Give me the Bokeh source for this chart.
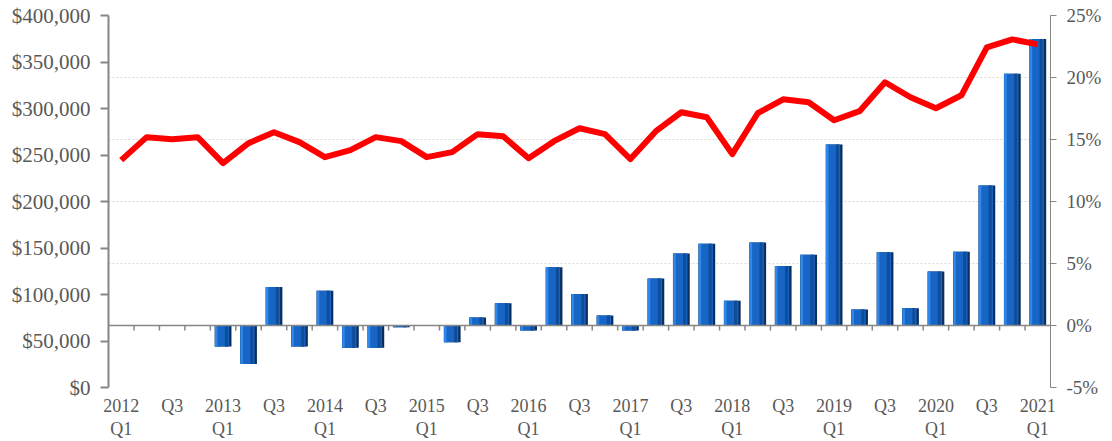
import numpy as np
from bokeh.plotting import figure
from bokeh.models import (Range1d, LinearAxis, FixedTicker, NumeralTickFormatter,
                          PrintfTickFormatter, Grid, Span, ColumnDataSource)
from bokeh.transform import dodge
from bokeh.embed import file_html
from bokeh.resources import INLINE

# ---- data ----
quarters = [f"{y} Q{q}" for y in range(2012, 2022) for q in range(1, 5)][:37]
tick_labels = ["2012\nQ1", "Q3", "2013\nQ1", "Q3", "2014\nQ1", "Q3", "2015\nQ1", "Q3",
               "2016\nQ1", "Q3", "2017\nQ1", "Q3", "2018\nQ1", "Q3", "2019\nQ1", "Q3",
               "2020\nQ1", "Q3", "2021\nQ1"]
growth_pct = [np.nan, np.nan, np.nan, np.nan, -1.7, -3.1, 3.1, -1.7, 2.8, -1.8, -1.8,
              -0.15, -0.05, -1.35, 0.65, 1.8, -0.4, 4.7, 2.55, 0.8, -0.4, 3.8, 5.8, 6.6,
              2.0, 6.7, 4.8, 5.7, 14.6, 1.3, 5.9, 1.4, 4.35, 5.95, 11.3, 20.3, 23.1]
price_usd = [244500, 269200, 267000, 269200, 241300, 262700, 274500, 263800, 247700,
             255200, 269200, 264900, 247700, 253100, 272400, 270200, 246600, 264900,
             278800, 272400, 245600, 275600, 296000, 290600, 250900, 294900, 309900,
             306700, 287400, 297100, 328200, 312100, 300300, 314200, 365700, 374300,
             368900]
left_ticks = list(range(0, 400001, 50000))
right_ticks = list(range(-5, 26, 5))

n = len(quarters)
idx = np.arange(n)
src = ColumnDataSource(dict(x=idx, pct=growth_pct, usd=price_usd))

FONT = "Liberation Serif"
TXT = "#595959"
AX = "#868686"

p = figure(width=1112, height=441, output_backend="svg", toolbar_location=None,
           x_range=Range1d(-0.5, n - 0.5), y_range=Range1d(-5, 25),
           x_axis_location=None, y_axis_location=None,
           min_border_left=108, min_border_right=62, min_border_top=15,
           min_border_bottom=53)
p.outline_line_color = None
p.grid.visible = False
p.extra_y_ranges = {"usd": Range1d(0, 400000)}

# gridlines (follow percent axis)
g = Grid(dimension=1, ticker=FixedTicker(ticks=right_ticks),
         grid_line_color="#d9d9d9", grid_line_dash="2 2", grid_line_width=1)
p.add_layout(g)

# axes
la = LinearAxis(y_range_name="usd", ticker=FixedTicker(ticks=left_ticks),
                formatter=NumeralTickFormatter(format="$0,0"))
ra = LinearAxis(ticker=FixedTicker(ticks=right_ticks),
                formatter=PrintfTickFormatter(format="%d%%"))
for a, lw, fs, to in ((la, 2, "21px", 8), (ra, 1, "19px", 6)):
    a.axis_line_color = AX
    a.axis_line_width = lw
    a.major_tick_line_color = AX
    a.major_tick_line_width = lw
    a.major_tick_out = to
    a.major_tick_in = 0
    a.minor_tick_line_color = None
    a.major_label_text_font = FONT
    a.major_label_text_font_size = fs
    a.major_label_text_color = TXT
    a.major_label_standoff = 10
p.add_layout(la, "left")
p.add_layout(ra, "right")

label_pos = list(range(0, n, 2))
ba = LinearAxis(ticker=FixedTicker(ticks=label_pos),
                major_label_overrides={k: v for k, v in zip(label_pos, tick_labels)})
ba.axis_line_color = None
ba.major_tick_line_color = None
ba.major_tick_out = 0
ba.major_tick_in = 0
ba.minor_tick_line_color = None
ba.major_label_text_font = FONT
ba.major_label_text_font_size = "18px"
ba.major_label_text_color = TXT
ba.major_label_standoff = 8
ba.major_label_text_line_height = 1.15
p.add_layout(ba, "below")

# bars with bevel look
p.vbar(x="x", top="pct", bottom=0, width=0.66, source=src,
       fill_color="#0B2F5C", line_color=None)
p.vbar(x=dodge("x", -0.035, range=p.x_range), top="pct", bottom=0, width=0.55,
       source=src, fill_color="#1766C6", line_color=None)
p.vbar(x=dodge("x", 0.13, range=p.x_range), top="pct", bottom=0, width=0.12,
       source=src, fill_color="#0F4C99", line_color=None)
p.vbar(x=dodge("x", -0.27, range=p.x_range), top="pct", bottom=0, width=0.1,
       source=src, fill_color="#2F88EA", line_color=None)

# zero axis line and ticks at category boundaries
p.add_layout(Span(location=0, dimension="width", line_color=AX, line_width=1.5))
bounds = idx[:-1] + 0.5
p.segment(x0=bounds, y0=0, x1=bounds, y1=-0.4, line_color=AX, line_width=1.5)

# line
p.line(x="x", y="usd", source=src, y_range_name="usd", line_color="#FF0000",
       line_width=6, line_join="round")

open("out.html", "w").write(file_html(p, INLINE))
